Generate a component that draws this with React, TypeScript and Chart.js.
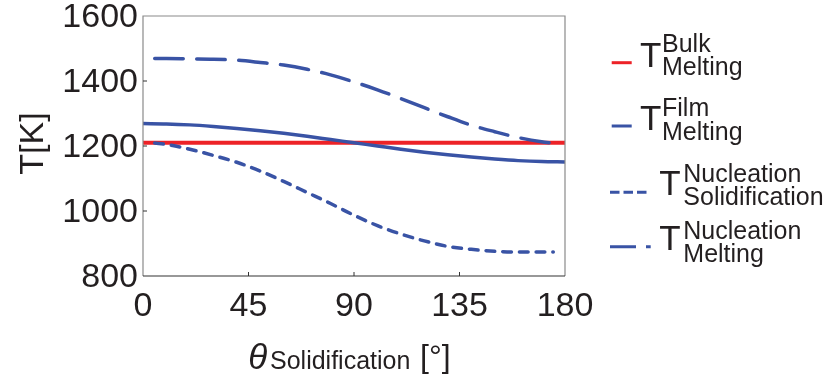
import React, { useEffect, useRef } from "react";
import { Chart, registerables } from "chart.js";

Chart.register(...registerables);

// ---------- data ----------
const xTickValues = [0, 45, 90, 135, 180];
const yTickValues = [800, 1000, 1200, 1400, 1600];

const thetaBulk = [0, 180];
const bulkMelting = [1210, 1210];

const thetaFilm = [0, 10, 20, 30, 40, 50, 60, 70, 80, 90, 100, 110, 120, 130, 140, 150, 160, 170, 180];
const filmMelting = [1269, 1268, 1265, 1260, 1254, 1247, 1239, 1230, 1220, 1210, 1200, 1190, 1181, 1173, 1166, 1160, 1155, 1152, 1151];

const thetaNucleation = [5, 10, 20, 30, 40, 50, 60, 70, 80, 90, 100, 110, 120, 130, 140, 150, 160, 170, 175];
const nucleationSolidification = [1209, 1205, 1190, 1171, 1150, 1123, 1091, 1057, 1023, 987, 955, 929, 908, 891, 882, 876, 874, 874, 874];
const nucleationMelting = [1469, 1469, 1468, 1467, 1464, 1457, 1449, 1436, 1419, 1397, 1373, 1346, 1318, 1290, 1264, 1244, 1226, 1213, 1209];

const legendMain = ["T", "T", "T", "T"];
const legendSup = ["Bulk", "Film", "Nucleation", "Nucleation"];
const legendSub = ["Melting", "Melting", "Solidification", "Melting"];

const xTitleSymbol = "θ";
const xTitleSub = "Solidification";
const xTitleUnit = "[°]";
const yTitle = "T[K]";

// ---------- styles ----------
const FONT = "'Liberation Sans', Arial, Helvetica, sans-serif";
const TEXT = "#231f20";
const RED = "#ed2227";
const BLUE = "#3953a5";

const toPoints = (xs: number[], ys: number[]) => xs.map((x, i) => ({ x, y: ys[i] }));

const legendLayout = [
  { y: 62.7, x0: 611.7, x1: 631.7, tx: 640, tb: 66.7, sx: 662, supB: 51.7, subB: 75, color: RED, dash: [] as number[] },
  { y: 126, x0: 611.7, x1: 631.7, tx: 640, tb: 130, sx: 662, supB: 115.7, subB: 140, color: BLUE, dash: [] as number[] },
  { y: 192.3, x0: 610, x1: 646.7, tx: 659.3, tb: 195, sx: 683.3, supB: 181.7, subB: 205, color: BLUE, dash: [9.5, 4] },
  { y: 246.7, x0: 610, x1: 650.7, tx: 659.3, tb: 250, sx: 683.3, supB: 239.3, subB: 261.7, color: BLUE, dash: [26, 10] },
];

const decorPlugin = {
  id: "decor",
  afterDatasetsDraw(chart: any) {
    const { ctx, chartArea: a, scales } = chart;
    const xs = scales.x;
    const ys = scales.y;
    ctx.save();
    // frame
    ctx.lineWidth = 1.2;
    ctx.strokeStyle = "#8a8a8a";
    ctx.beginPath();
    ctx.moveTo(a.left, a.bottom);
    ctx.lineTo(a.left, a.top);
    ctx.lineTo(a.right, a.top);
    ctx.lineTo(a.right, a.bottom);
    ctx.stroke();
    ctx.strokeStyle = "#333333";
    ctx.beginPath();
    ctx.moveTo(a.left, a.bottom);
    ctx.lineTo(a.right, a.bottom);
    ctx.stroke();
    // inward ticks
    ctx.lineWidth = 1;
    ctx.strokeStyle = "#333333";
    ctx.beginPath();
    xTickValues.slice(1, -1).forEach((v) => {
      const px = xs.getPixelForValue(v);
      ctx.moveTo(px, a.bottom);
      ctx.lineTo(px, a.bottom - 4);
    });
    yTickValues.slice(1, -1).forEach((v) => {
      const py = ys.getPixelForValue(v);
      ctx.moveTo(a.left, py);
      ctx.lineTo(a.left + 4, py);
    });
    ctx.stroke();
    ctx.restore();
  },
  afterDraw(chart: any) {
    const { ctx } = chart;
    ctx.save();
    ctx.fillStyle = TEXT;
    ctx.textBaseline = "alphabetic";
    // y title
    ctx.save();
    ctx.translate(43, 143.5);
    ctx.rotate(-Math.PI / 2);
    ctx.textAlign = "center";
    ctx.font = `34px ${FONT}`;
    ctx.fillText(yTitle, 0, 0);
    ctx.restore();
    // x title
    ctx.textAlign = "left";
    ctx.font = `italic 35px ${FONT}`;
    ctx.fillText(xTitleSymbol, 248.3, 369);
    ctx.font = `25px ${FONT}`;
    ctx.fillText(xTitleSub, 270, 369);
    ctx.font = `32px ${FONT}`;
    ctx.fillText(xTitleUnit, 420, 366.6);
    // legend
    legendLayout.forEach((r, i) => {
      ctx.save();
      ctx.strokeStyle = r.color;
      ctx.lineWidth = 3;
      ctx.lineCap = "butt";
      ctx.setLineDash(r.dash);
      ctx.beginPath();
      ctx.moveTo(r.x0, r.y);
      ctx.lineTo(r.x1, r.y);
      ctx.stroke();
      ctx.restore();
      ctx.font = `35px ${FONT}`;
      ctx.fillText(legendMain[i], r.tx, r.tb);
      ctx.font = `25px ${FONT}`;
      ctx.fillText(legendSup[i], r.sx, r.supB);
      ctx.fillText(legendSub[i], r.sx, r.subB);
    });
    ctx.restore();
  },
};

export default function App() {
  const ref = useRef<HTMLCanvasElement | null>(null);
  useEffect(() => {
    if (!ref.current) return;
    const chart = new Chart(ref.current, {
      type: "line",
      data: {
        datasets: [
          {
            label: "T Nucleation Solidification",
            data: toPoints(thetaNucleation, nucleationSolidification),
            borderColor: BLUE,
            borderWidth: 3.5,
            borderDash: [8.7, 8],
            borderCapStyle: "round",
            pointRadius: 0,
            cubicInterpolationMode: "monotone",
            order: 1,
          },
          {
            label: "T Nucleation Melting",
            data: toPoints(thetaNucleation, nucleationMelting),
            borderColor: BLUE,
            borderWidth: 3.5,
            borderDash: [28.5, 13.5],
            borderCapStyle: "round",
            pointRadius: 0,
            cubicInterpolationMode: "monotone",
            order: 1,
          },
          {
            label: "T Film Melting",
            data: toPoints(thetaFilm, filmMelting),
            borderColor: BLUE,
            borderWidth: 3.5,
            pointRadius: 0,
            cubicInterpolationMode: "monotone",
            order: 1,
          },
          {
            label: "T Bulk Melting",
            data: toPoints(thetaBulk, bulkMelting),
            borderColor: RED,
            borderWidth: 4,
            pointRadius: 0,
            order: 5,
          },
        ],
      } as any,
      options: {
        animation: false,
        responsive: false,
        layout: { padding: { left: 0, right: 265, top: 16, bottom: 0 } },
        plugins: { legend: { display: false }, tooltip: { enabled: false } },
        scales: {
          x: {
            type: "linear",
            min: 0,
            max: 180,
            afterBuildTicks: (s: any) => {
              s.ticks = xTickValues.map((v) => ({ value: v }));
            },
            ticks: {
              font: { family: FONT, size: 34 },
              color: TEXT,
              padding: 10,
              maxRotation: 0,
              autoSkip: false,
              callback: (v: any) => String(v),
            },
            grid: { display: false, drawTicks: false },
            border: { display: false },
            afterFit: (s: any) => {
              s.height = 102;
              s.paddingLeft = 0;
              s.paddingRight = 0;
            },
          },
          y: {
            type: "linear",
            min: 800,
            max: 1600,
            afterBuildTicks: (s: any) => {
              s.ticks = yTickValues.map((v) => ({ value: v }));
            },
            ticks: {
              font: { family: FONT, size: 34 },
              color: TEXT,
              padding: 5,
              labelOffset: 1.5,
              autoSkip: false,
              callback: (v: any) => String(v),
            },
            grid: { display: false, drawTicks: false },
            border: { display: false },
            afterFit: (s: any) => {
              s.width = 143;
              s.paddingTop = 0;
              s.paddingBottom = 0;
            },
          },
        },
      } as any,
      plugins: [decorPlugin],
    });
    return () => chart.destroy();
  }, []);
  return (
    <div style={{ position: "fixed", left: 0, top: 0, width: 830, height: 378, background: "#fff" }}>
      <canvas ref={ref} width={830} height={378} style={{ width: 830, height: 378, display: "block" }} />
    </div>
  );
}
